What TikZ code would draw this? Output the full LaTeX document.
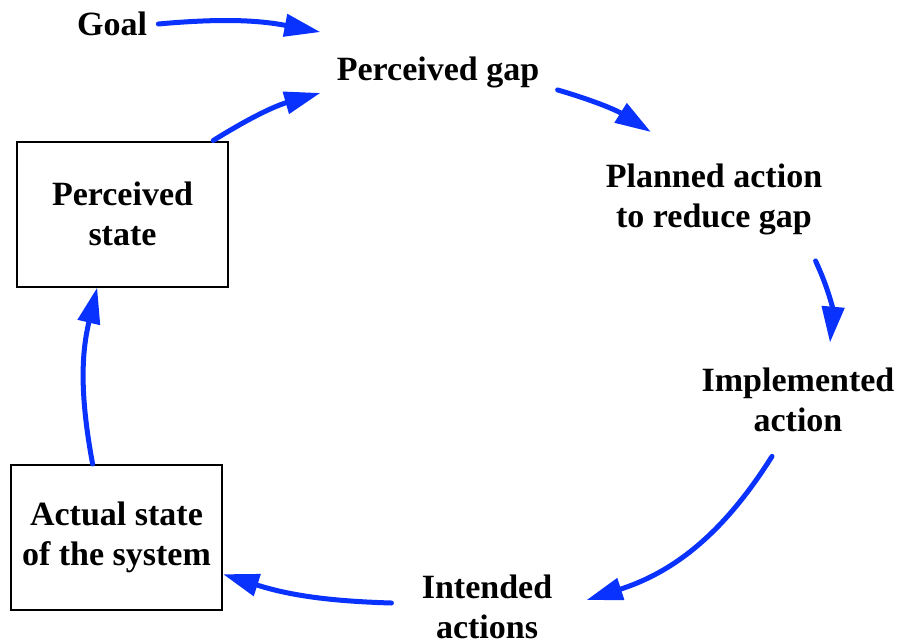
\documentclass[tikz,border=0pt]{standalone}
\usepackage{fontspec}
\setmainfont{Liberation Serif}
\usetikzlibrary{arrows.meta,positioning,calc}
\definecolor{loopblue}{RGB}{10,50,255}
\tikzset{
  stage/.style={font=\fontsize{17}{20}\selectfont\bfseries, align=center, inner sep=5.5pt},
  statebox/.style={rectangle, draw=black, line width=1pt, minimum width=105.5pt,
    minimum height=72.5pt, font=\fontsize{17}{20}\selectfont\bfseries, align=center},
  arrB/.style={-{Triangle[length=18pt,width=11pt]}, line width=2.5pt, loopblue, line cap=round},
}
\begin{document}
\begin{tikzpicture}[x=0.5pt, y=-0.5pt]
\useasboundingbox (0,0) rectangle (899,643);

% ================= TEXT STAGES =================
\node[stage] (goal) at (112,24) {Goal};
\node[stage] (gap) at (438,72) {Perceived gap};
\node[stage] (planned) at (714,199) {Planned action\\to reduce gap};
\node[stage] (implemented) at (798,400) {Implemented\\action};
\node[stage] (intended) at (487,607) {Intended\\actions};

% ================= BOXES =================
\node[statebox] (perceived) at (122.5,214) {Perceived\\state};
\node[statebox] (actual) at (116.5,537.5) {Actual state\\of the system};

% ================= ARROWS =================
\draw[arrB] (goal.east) to[bend left=8] ([shift={(-2.5pt,6.5pt)}]gap.north west);
\draw[arrB] ([shift={(3.5pt,4.5pt)}]gap.south east) to[bend left=8] ([shift={(-31.5pt,10pt)}]planned.north);
\draw[arrB] ([shift={(-9pt,-7.5pt)}]planned.south east) to[bend left=15] ([shift={(16pt,7pt)}]implemented.north);
\draw[arrB] ([shift={(-13pt,-6.5pt)}]implemented.south) to[bend left=20] ([shift={(11.5pt,3.5pt)}]intended.east);
\draw[arrB] ([shift={(-9.5pt,2pt)}]intended.west) to[bend left=8] (actual.-19);
\draw[arrB] (actual.108) to[bend left=12] (perceived.251);
\draw[arrB] (perceived.39) to[bend left=8] ([shift={(-2.5pt,3pt)}]gap.south west);

\end{tikzpicture}
\end{document}
